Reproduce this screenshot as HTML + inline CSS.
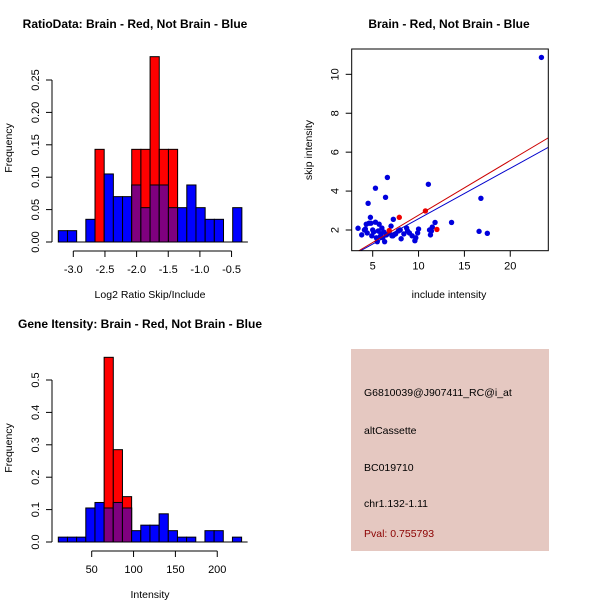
<!DOCTYPE html>
<html><head><meta charset="utf-8"><style>
body{margin:0;background:#fff}
svg{display:block;font-family:"Liberation Sans",sans-serif}
</style></head><body>
<svg id="s" width="600" height="600" xmlns="http://www.w3.org/2000/svg">
<rect x="351" y="349" width="198" height="202" fill="#E5C8C1"/>
<text x="364" y="396" font-size="10.5">G6810039@J907411_RC@i_at</text>
<text x="364" y="434" font-size="10.5">altCassette</text>
<text x="364" y="471" font-size="10.5">BC019710</text>
<text x="364" y="507" font-size="10.5">chr1.132-1.11</text>
<text x="364" y="537" font-size="10.5" fill="#8B0000">Pval: 0.755793</text>
</svg>
<script>
const NS='http://www.w3.org/2000/svg';
const svg=document.getElementById('s');
function mk(t,a,p){const e=document.createElementNS(NS,t);for(const k in a)e.setAttribute(k,a[k]);(p||svg).appendChild(e);return e;}

// ---- Histogram 1 data ----
const h1Start=-3.237, h1Width=0.145;
const h1Blue=[0.0175,0.0175,0,0.035,0,0.105,0.07,0.07,0.088,0.053,0.088,0.088,0.053,0.053,0.088,0.053,0.035,0.035,0,0.053];
const h1Red=[0,0,0,0,0.143,0,0,0,0.143,0.143,0.286,0.143,0.143,0,0,0,0,0,0,0];
const h1XTicks=[-3.0,-2.5,-2.0,-1.5,-1.0,-0.5];
const h1YTicks=[0,0.05,0.10,0.15,0.20,0.25];

// ---- Histogram 2 data ----
const h2Start=10.1, h2Width=10.95;
const h2Blue=[0.015,0.015,0.015,0.105,0.122,0.105,0.122,0.105,0.035,0.052,0.052,0.087,0.035,0.015,0.015,0,0.035,0.035,0,0.015];
const h2Red=[0,0,0,0,0,0.57,0.285,0.14,0,0,0,0,0,0,0,0,0,0,0,0];
const h2XTicks=[50,100,150,200];
const h2YTicks=[0,0.1,0.2,0.3,0.4,0.5];

// ---- Scatter data ----
const blueX=[23.4,16.8,16.6,17.5,13.6,11.07,11.8,6.6,5.3,6.4,4.5,4.75,7.25,3.4,3.8,4.1,4.3,4.6,4.9,5.1,5.3,5.5,5.7,5.9,6.1,6.3,6.5,6.8,7.0,7.2,7.5,7.8,8.1,8.4,8.7,9.0,9.3,9.6,9.9,10.0,11.3,11.5,11.4,5.0,5.6,6.0,4.4,7.1,8.0,9.7,5.4,6.2,4.8,8.8,11.2,5.8,7.3,4.2];
const blueY=[10.87,3.63,1.93,1.83,2.39,4.35,2.39,4.7,4.15,3.68,3.37,2.65,2.55,2.09,1.75,2.0,2.3,2.35,1.7,1.9,2.4,1.4,2.3,1.8,1.6,1.4,1.75,1.9,2.2,1.7,1.8,1.95,1.55,1.8,2.1,1.85,1.7,1.45,1.85,2.05,1.75,2.15,1.95,2.0,1.95,2.1,1.85,1.7,2.0,1.6,1.6,1.9,2.35,1.95,2.0,1.65,1.75,2.05];
const redX=[7.9,10.75,12.0,6.8];
const redY=[2.65,2.98,2.03,1.97];
const redLine=[[3.44,0.92],[24.16,6.74]];
const blueLine=[[3.62,0.92],[24.16,6.25]];
const scXTicks=[5,10,15,20];
const scYTicks=[2,4,6,8,10];

function txt(x,y,s,o,name){const t=mk('text',Object.assign({x:x,y:y,'font-size':11},o||{}));t.textContent=s;return t;}

function hist(cfg){
  const g=mk('g',{});
  
  
  const X=v=>cfg.x0px+(v-cfg.x0)*cfg.kx, Y=v=>cfg.y0px-v*cfg.ky;
  for(let i=0;i<cfg.blue.length;i++){
    const xl=X(cfg.start+i*cfg.width), xr=X(cfg.start+(i+1)*cfg.width);
    const b=cfg.blue[i], r=cfg.red[i];
    if(b>0){const e=mk('rect',{x:xl,y:Y(b),width:xr-xl,height:Y(0)-Y(b),fill:'#0000FF',stroke:'#000','stroke-width':1},g);
      }
    if(r>0){const e=mk('rect',{x:xl,y:Y(r),width:xr-xl,height:Y(0)-Y(r),fill:'#FF0000',stroke:'#000','stroke-width':1},g);
      }
    const m=Math.min(b,r);
    if(m>0){const e=mk('rect',{x:xl,y:Y(m),width:xr-xl,height:Y(0)-Y(m),fill:'#7F007F',stroke:'#000','stroke-width':1},g);
      }
  }
  const bl=mk('line',{x1:cfg.x0px-cfg.pad,x2:X(cfg.start+cfg.blue.length*cfg.width)+6,y1:Y(0),y2:Y(0),stroke:'#000'},g);
  
  const xa=cfg.xticks, ya=cfg.yticks, axy=Y(0)+9, axx=cfg.axx;
  const xl=mk('line',{x1:X(xa[0]),x2:X(xa[xa.length-1]),y1:axy,y2:axy,stroke:'#000'},g);
  
  xa.forEach(v=>{mk('line',{x1:X(v),x2:X(v),y1:axy,y2:axy+6,stroke:'#000'},g);
    txt(X(v),axy+22,cfg.xfmt(v),{'text-anchor':'middle'},'x-tick-label');});
  const yl=mk('line',{x1:axx,x2:axx,y1:Y(ya[0]),y2:Y(ya[ya.length-1]),stroke:'#000'},g);
  
  ya.forEach(v=>{mk('line',{x1:axx,x2:axx-6,y1:Y(v),y2:Y(v),stroke:'#000'},g);
    txt(axx-13,Y(v),cfg.yfmt(v),{'text-anchor':'middle',transform:`rotate(-90 ${axx-13} ${Y(v)})`},'y-tick-label');});
}

hist({name:'ratio-histogram',start:h1Start,width:h1Width,blue:h1Blue,red:h1Red,x0:-3.0,x0px:73.3,kx:63.3,y0px:242,ky:648,
  xticks:h1XTicks,yticks:h1YTicks,axx:52,pad:0,xfmt:v=>v.toFixed(1),yfmt:v=>v.toFixed(2)});
txt(135,28,'RatioData: Brain - Red, Not Brain - Blue',{'text-anchor':'middle','font-weight':'bold','font-size':12},'ratio-title');
txt(150,298,'Log2 Ratio Skip/Include',{'text-anchor':'middle','font-size':10.5},'ratio-x-title');
txt(12,148,'Frequency',{'text-anchor':'middle','font-size':10.5,transform:'rotate(-90 12 148)'},'ratio-y-title');

hist({name:'intensity-histogram',start:h2Start,width:h2Width,blue:h2Blue,red:h2Red,x0:50,x0px:91.7,kx:0.837,y0px:542,ky:324,
  xticks:h2XTicks,yticks:h2YTicks,axx:52,pad:0,xfmt:v=>String(v),yfmt:v=>v.toFixed(1)});
txt(140,328,'Gene Itensity: Brain - Red, Not Brain - Blue',{'text-anchor':'middle','font-weight':'bold','font-size':12},'intensity-title');
txt(150,598,'Intensity',{'text-anchor':'middle','font-size':10.5},'intensity-x-title');
txt(12,448,'Frequency',{'text-anchor':'middle','font-size':10.5,transform:'rotate(-90 12 448)'},'intensity-y-title');

// ---- Scatter ----
(function(){
  const g=mk('g',{});
  
  
  const X=v=>372.7+(v-5)*9.17, Y=v=>230-(v-2)*19.46;
  const L=351.7,R=548.3,T=49,B=250.7;
  const cp=mk('clipPath',{id:'cp'},g);mk('rect',{x:L,y:T,width:R-L,height:B-T},cp);
  const pg=mk('g',{'clip-path':'url(#cp)'},g);
  blueX.forEach((x,i)=>{const c=mk('circle',{cx:X(x),cy:Y(blueY[i]),r:2.7,fill:'#0000DD'},pg);
    });
  redX.forEach((x,i)=>{const c=mk('circle',{cx:X(x),cy:Y(redY[i]),r:2.7,fill:'#EE0000'},pg);
    });
  function ln(p,col,name){const e=mk('line',{x1:X(p[0][0]),y1:Y(p[0][1]),x2:X(p[1][0]),y2:Y(p[1][1]),stroke:col,'stroke-width':1},pg);
    }
  ln(redLine,'#CC0000','red-fit-line');ln(blueLine,'#0000CC','blue-fit-line');
  const box=mk('rect',{x:L,y:T,width:R-L,height:B-T,fill:'none',stroke:'#000'},g);
  
  scXTicks.forEach(v=>{mk('line',{x1:X(v),x2:X(v),y1:B,y2:B+6,stroke:'#000'},g);
    txt(X(v),B+19,String(v),{'text-anchor':'middle'},'x-tick-label');});
  scYTicks.forEach(v=>{mk('line',{x1:L,x2:L-6,y1:Y(v),y2:Y(v),stroke:'#000'},g);
    txt(L-13,Y(v),String(v),{'text-anchor':'middle',transform:`rotate(-90 ${L-13} ${Y(v)})`},'y-tick-label');});
})();
txt(449,28,'Brain - Red, Not Brain - Blue',{'text-anchor':'middle','font-weight':'bold','font-size':12},'scatter-title');
txt(449,298,'include intensity',{'text-anchor':'middle','font-size':10.5},'scatter-x-title');
txt(312,150,'skip intensity',{'text-anchor':'middle','font-size':10.5,transform:'rotate(-90 312 150)'},'scatter-y-title');
</script>
</body></html>
